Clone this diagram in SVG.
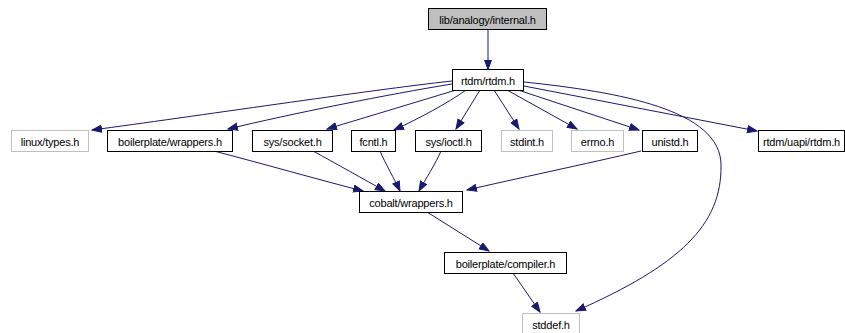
<svg xmlns="http://www.w3.org/2000/svg" width="845" height="333" viewBox="0 0 845 333">
<style>
.n rect{fill:#fff;stroke:#000;stroke-width:1}
.n.g rect{stroke:#bfbfbf}
.n.root rect{fill:#bfbfbf}
.n text{font-family:"Liberation Sans",Arial,sans-serif;font-size:11px;letter-spacing:-0.2px;text-anchor:middle;fill:#000}
.e path{fill:none;stroke:#191970;stroke-width:1;marker-end:url(#ah)}
</style>
<defs>
<marker id="ah" markerUnits="userSpaceOnUse" markerWidth="11" markerHeight="9" refX="10" refY="4" orient="auto">
<path d="M0.5,0.5 L10,4 L0.5,7.5 z" fill="#191970" stroke="#191970" stroke-width="1"/>
</marker>
</defs>
<rect width="845" height="333" fill="#fff"/>
<g class="e">
<path d="M488,29.5 L488,69.5"/>
<path d="M452,81 C370,90 190,117 92,130"/>
<path d="M452,84 C390,94 290,114 228,129"/>
<path d="M456,90 C420,101 370,116 327,129"/>
<path d="M466,90 C448,103 418,119 394,130"/>
<path d="M480,90 L456,129"/>
<path d="M494,90 L519,129"/>
<path d="M507,90 L577,129"/>
<path d="M518,90 L639,130"/>
<path d="M524,86 L757,131"/>
<path d="M524,82 C620,92 721,110 721,165 C722,225 680,265 576,311"/>
<path d="M214,151 C260,163 320,180 363,191"/>
<path d="M313,151 C335,163 365,180 385,191"/>
<path d="M380,151 C385,163 395,180 400,191"/>
<path d="M441,151 C436,163 425,180 419,191"/>
<path d="M641,151 C590,163 510,180 467,190"/>
<path d="M427,212 L489,251"/>
<path d="M513,273 L540,312"/>
</g>
<g id="n_internal" class="n root"><rect x="428.5" y="8.5" width="118" height="21"/><text x="487.5" y="24">lib/analogy/internal.h</text></g>
<g id="n_rtdm" class="n"><rect x="452.5" y="69.5" width="71" height="21"/><text x="488" y="85">rtdm/rtdm.h</text></g>
<g id="n_types" class="n g"><rect x="11.5" y="130.5" width="77" height="21"/><text x="50" y="146">linux/types.h</text></g>
<g id="n_bwrap" class="n"><rect x="107.5" y="130.5" width="125" height="21"/><text x="170" y="146">boilerplate/wrappers.h</text></g>
<g id="n_socket" class="n"><rect x="252.5" y="130.5" width="80" height="21"/><text x="292.5" y="146">sys/socket.h</text></g>
<g id="n_fcntl" class="n"><rect x="351.5" y="130.5" width="44" height="21"/><text x="373.5" y="146">fcntl.h</text></g>
<g id="n_ioctl" class="n"><rect x="415.5" y="130.5" width="66" height="21"/><text x="448.5" y="146">sys/ioctl.h</text></g>
<g id="n_stdint" class="n g"><rect x="501.5" y="130.5" width="51" height="21"/><text x="527" y="146">stdint.h</text></g>
<g id="n_errno" class="n g"><rect x="571.5" y="130.5" width="52" height="21"/><text x="597.5" y="146">errno.h</text></g>
<g id="n_unistd" class="n"><rect x="642.5" y="130.5" width="55" height="21"/><text x="670" y="146">unistd.h</text></g>
<g id="n_uapi" class="n"><rect x="758.5" y="130.5" width="86" height="21"/><text x="801.5" y="146">rtdm/uapi/rtdm.h</text></g>
<g id="n_cwrap" class="n"><rect x="359.5" y="191.5" width="103" height="21"/><text x="411" y="207">cobalt/wrappers.h</text></g>
<g id="n_compiler" class="n"><rect x="444.5" y="252.5" width="122" height="21"/><text x="505.5" y="268">boilerplate/compiler.h</text></g>
<g id="n_stddef" class="n g"><rect x="522.5" y="313.5" width="57" height="21"/><text x="551" y="329">stddef.h</text></g>
</svg>
